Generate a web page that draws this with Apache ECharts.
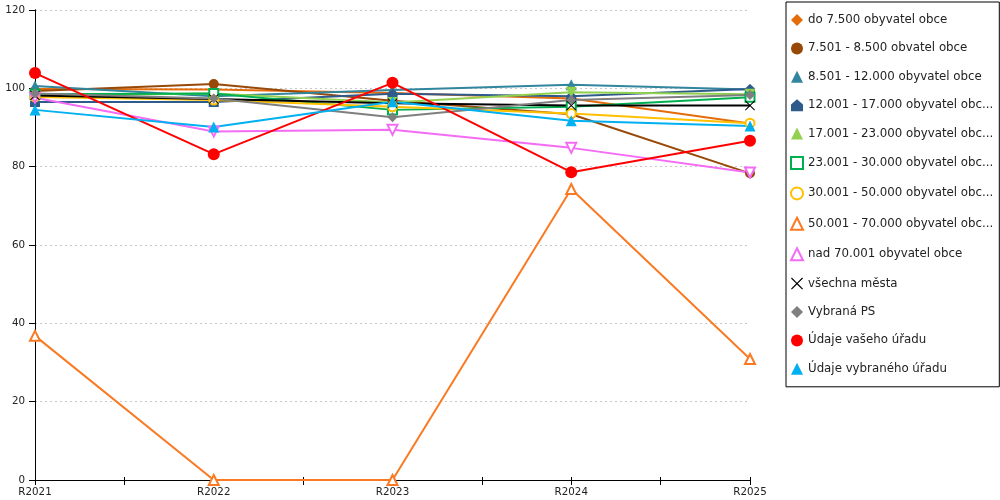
<!DOCTYPE html>
<html><head><meta charset="utf-8">
<script src="https://cdn.jsdelivr.net/npm/echarts@6/dist/echarts.min.js"></script>
<style>html,body{margin:0;padding:0;background:#fff}#c{width:1000px;height:500px}</style>
</head><body><div id="c"></div>
<script>
const categories = ['R2021', 'R2022', 'R2023', 'R2024', 'R2025'];
const yMin = 0, yMax = 120, yStep = 20;

const seriesNames = [
  'do 7.500 obyvatel obce',
  '7.501 - 8.500 obvatel obce',
  '8.501 - 12.000 obyvatel obce',
  '12.001 - 17.000 obyvatel obce',
  '17.001 - 23.000 obyvatel obce',
  '23.001 - 30.000 obyvatel obce',
  '30.001 - 50.000 obyvatel obce',
  '50.001 - 70.000 obyvatel obce',
  'nad 70.001 obyvatel obce',
  'všechna města',
  'Vybraná PS',
  'Údaje vašeho úřadu',
  'Údaje vybraného úřadu'
];

const valsDo7500   = [99.8, 99.7, 98.8, 97.4, 91.0];
const vals7501     = [99.3, 101.1, 96.8, 93.4, 78.3];
const vals8501     = [100.6, 98.0, 99.6, 100.9, 99.7];
const vals12001    = [96.5, 96.5, 98.6, 98.0, 99.8];
const vals17001    = [98.2, 98.7, 96.4, 99.0, 98.5];
const vals23001    = [98.5, 98.7, 94.5, 95.3, 97.7];
const vals30001    = [97.8, 97.0, 95.3, 93.6, 91.1];
const vals50001    = [36.8, 0, 0, 74.3, 30.9];
const valsNad70001 = [97.6, 89.0, 89.4, 84.8, 78.5];
const valsVsechna  = [98.2, 97.3, 96.2, 95.6, 95.6];
const valsPS       = [98.7, 97.4, 92.6, 97.0, 98.3];
const valsVas      = [103.9, 83.2, 101.4, 78.6, 86.6];
const valsVybrany  = [94.5, 90.1, 96.6, 91.7, 90.4];

const allValues = [valsDo7500, vals7501, vals8501, vals12001, vals17001, vals23001,
  vals30001, vals50001, valsNad70001, valsVsechna, valsPS, valsVas, valsVybrany];

const HOUSE = 'path://M5,0L10,4.5L10,10L0,10L0,4.5Z';
const XMARK = 'path://M0,0.7L0.7,0L5,4.3L9.3,0L10,0.7L5.7,5L10,9.3L9.3,10L5,5.7L0.7,10L0,9.3L4.3,5Z';

const styles = [
  {color: '#E46C0A', symbol: 'diamond', size: 10, rot: 0},
  {color: '#984807', symbol: 'circle', size: 10, rot: 0},
  {color: '#31859C', symbol: 'triangle', size: 11, rot: 0},
  {color: '#2E5A8C', symbol: HOUSE, size: 10, rot: 0},
  {color: '#92D050', symbol: 'triangle', size: 11, rot: 180},
  {color: '#00B050', symbol: 'emptyRect', size: 9, rot: 0},
  {color: '#FFC000', symbol: 'emptyCircle', size: 9, rot: 0},
  {color: '#F97A22', symbol: 'emptyTriangle', size: 10, rot: 0},
  {color: '#F46CF4', symbol: 'emptyTriangle', size: 10, rot: 180},
  {color: '#000000', symbol: XMARK, size: 10, rot: 0},
  {color: '#7F7F7F', symbol: 'diamond', size: 10, rot: 0},
  {color: '#FF0000', symbol: 'circle', size: 12, rot: 0},
  {color: '#00B0F0', symbol: 'triangle', size: 11, rot: 0}
];

const FONT = 'DejaVu Sans';
const chart = echarts.init(document.getElementById('c'), null, {renderer: 'canvas'});

const series = seriesNames.map((name, i) => ({
  name: name,
  type: 'line',
  data: allValues[i],
  xAxisIndex: 0,
  yAxisIndex: 0,
  symbol: styles[i].symbol,
  symbolSize: styles[i].size,
  symbolRotate: styles[i].rot,
  showAllSymbol: true,
  lineStyle: {width: 2, color: styles[i].color},
  itemStyle: {color: styles[i].color, borderWidth: styles[i].symbol.indexOf('empty') === 0 ? 1 : 0},
  emphasis: {disabled: true},
  animation: false,
  z: 2
}));

chart.setOption({
  animation: false,
  backgroundColor: '#fff',
  grid: {left: 35, right: 250, top: 10, bottom: 20, containLabel: false},
  legend: {
    orient: 'vertical',
    left: 786, top: 2,
    padding: [12, 6, 12, 4],
    backgroundColor: '#fff',
    borderColor: '#000', borderWidth: 1,
    itemWidth: 12, itemHeight: 12, itemGap: 16.4,
    selectedMode: false,
    formatter: function (n) { return n.length > 28 ? n.slice(0, 28) + '...' : n; },
    textStyle: {fontFamily: FONT, fontSize: 11.8, color: '#222', lineHeight: 12,
      width: 184, overflow: 'none'},
    data: seriesNames.map((n, i) => ({name: n, icon: styles[i].symbol}))
  },
  xAxis: [
    {
      type: 'category', data: categories, boundaryGap: false,
      axisLine: {show: true, lineStyle: {color: '#000', width: 1}},
      axisTick: {show: false},
      axisLabel: {fontFamily: FONT, fontSize: 10.3, color: '#222', margin: 7, interval: 0},
      splitLine: {show: false}
    },
    {
      type: 'value', min: 0, max: 8, interval: 1, position: 'bottom',
      axisLine: {show: false},
      axisTick: {show: true, length: 5, lineStyle: {color: '#000'}},
      axisLabel: {show: false}, splitLine: {show: false}
    },
    {
      type: 'value', min: 0, max: 8, interval: 1, position: 'bottom',
      axisLine: {show: false},
      axisTick: {show: true, inside: true, length: 3, lineStyle: {color: '#000'}},
      axisLabel: {show: false}, splitLine: {show: false}
    }
  ],
  yAxis: [
    {
      type: 'value', min: yMin, max: yMax, interval: yStep,
      axisLine: {show: true, lineStyle: {color: '#000'}},
      axisTick: {show: true, length: 6, lineStyle: {color: '#000'}},
      axisLabel: {fontFamily: FONT, fontSize: 10.3, color: '#222', margin: 10},
      splitLine: {show: true, lineStyle: {color: '#c8c8c8', type: [2, 3], width: 1}}
    },
    {
      type: 'value', min: yMin, max: yMax, interval: yStep, position: 'right',
      axisLine: {show: true, lineStyle: {color: '#000'}},
      axisTick: {show: false}, axisLabel: {show: false}, splitLine: {show: false}
    }
  ],
  series: series
});
</script>
</body></html>
